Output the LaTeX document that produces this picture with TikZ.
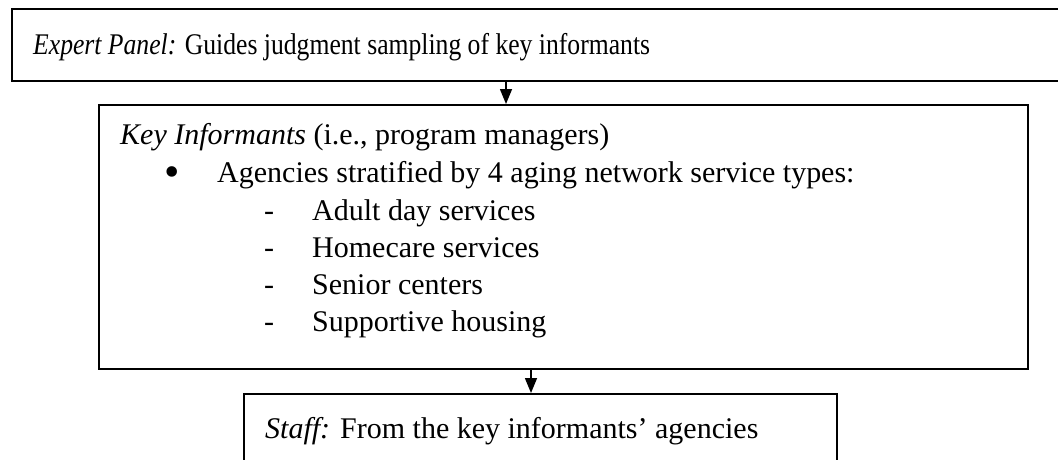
\documentclass[tikz,border=0pt]{standalone}
\usepackage{fontspec}
\setmainfont{Liberation Serif}
\usetikzlibrary{arrows.meta}

\begin{document}
\begin{tikzpicture}[x=1pt,y=-1pt,line cap=butt,
  box/.style={draw,anchor=north west,inner sep=0pt,line width=1.5pt},
  txt/.style={anchor=base west,inner sep=0pt,font=\fontsize{30}{37}\selectfont},
  flow/.style={-{Triangle[width=12pt,length=15pt]},line width=1.5pt}]
  \useasboundingbox (0,0) rectangle (1058,459);
  \clip (0,0) rectangle (1058,459);
  % boxes (the first and last run off the page)
  \node[box,minimum width=1080pt,minimum height=72pt] (panel) at (11,8) {};
  \node[box,minimum width=929pt,minimum height=264pt] (keyinf) at (98,104) {};
  \node[box,minimum width=593pt,minimum height=100pt] (staff) at (243,393) {};
  % texts (top line set narrower)
  \node[txt] (panellbl) at (33,54) {\scalebox{0.855}[1]{\textit{Expert Panel:} Guides judgment sampling of key informants}};
  \node[txt] (kilbl) at (120,144) {\textit{Key Informants} (i.e., program managers)};
  \node[txt,font=\fontsize{44}{44}\selectfont] (bullet) at (164,186) {•};
  \node[txt] (agency) at (217,182) {Agencies stratified by 4 aging network service types:};
  \foreach \t [count=\i from 0] in {Adult day services,Homecare services,Senior centers,Supportive housing}{
    \node[txt] (dash\i) at (264,220+37*\i) {-};
    \node[txt] (svc\i) at (312,220+37*\i) {\t};
  }
  \node[txt] (stafflbl) at (265,438) {\textit{Staff:} From the key informants’ agencies};
  % arrows
  \coordinate (a1) at (506,0);
  \coordinate (a2) at (531,0);
  \draw[flow] (panel.south -| a1) -- (keyinf.north -| a1);
  \draw[flow] (keyinf.south -| a2) -- (staff.north -| a2);
\end{tikzpicture}
\end{document}
